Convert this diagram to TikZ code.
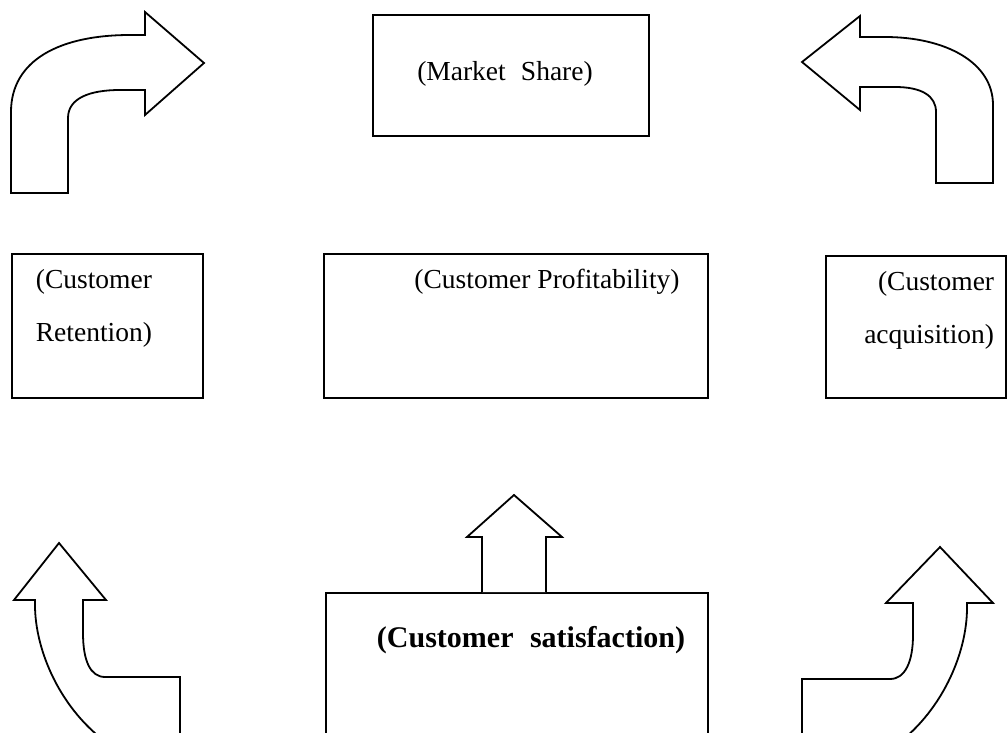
\documentclass[tikz,border=0pt]{standalone}
\usepackage{fontspec}
\setmainfont{Liberation Serif}
\begin{document}
\begin{tikzpicture}[x=1pt,y=-1pt,line width=1.8pt,line join=miter,
  box/.style={draw,rectangle,inner sep=0pt,anchor=north west},
  lbl/.style={inner sep=0pt,font=\fontsize{27.5}{33}\selectfont},
  boldlbl/.style={inner sep=0pt,font=\bfseries\fontsize{30}{36}\selectfont},
  blockarrow/.style={draw,fill=white}]
\useasboundingbox (0,0) rectangle (1007,733);

% boxes
\node[box,minimum width=276pt,minimum height=121pt] (share) at (372,14) {};
\node[box,minimum width=191pt,minimum height=144pt] (retention) at (11,253) {};
\node[box,minimum width=384pt,minimum height=144pt] (profit) at (323,253) {};
\node[box,minimum width=180pt,minimum height=142pt] (acquisition) at (825,255) {};
\node[box,minimum width=382pt,minimum height=170pt] (satisfaction) at (325,592) {};

% labels
\node[lbl,anchor=base] (tshare) at (505,81) {(Market\hspace{0.3em} Share)};
\node[lbl,anchor=base west] (tret1) at (35,288) {(Customer};
\node[lbl,anchor=base west] (tret2) at (35,341) {Retention)};
\node[lbl,anchor=base] (tprof) at (547,288) {(Customer Profitability)};
\node[lbl,anchor=base east] (tacq1) at (995,290) {(Customer};
\node[lbl,anchor=base east] (tacq2) at (995,343) {acquisition)};
\node[boldlbl,anchor=base] (tsat) at (531,647) {(Customer\hspace{0.3em} satisfaction)};

% curved block arrow, upper left (pointing right)
\path[blockarrow] (11,193) -- (11,112)
  .. controls (11,60) and (60,35) .. (130,35) -- (145,35) -- (145,12)
  -- (204,63) -- (145,115) -- (145,90) -- (120,90)
  .. controls (90,90) and (68,98) .. (68,118) -- (68,193) -- cycle;

% curved block arrow, upper right (pointing left)
\path[blockarrow] (993,183) -- (993,105)
  .. controls (993,62) and (945,37) .. (885,37) -- (860,37) -- (860,16)
  -- (802,62) -- (860,110) -- (860,87) -- (895,87)
  .. controls (922,87) and (936,96) .. (936,112) -- (936,183) -- cycle;

% curved block arrow, lower left (pointing up)
\path[blockarrow] (180,760) -- (180,677) -- (105,677)
  .. controls (90,677) and (83,660) .. (83,633) -- (83,600) -- (106,600)
  -- (59,543) -- (14,600) -- (35,600) -- (35,605)
  .. controls (35,650) and (60,710) .. (110,745) -- (130,760) -- cycle;

% curved block arrow, lower right (pointing up)
\path[blockarrow] (802,760) -- (802,679) -- (890,679)
  .. controls (905,679) and (913,662) .. (913,635) -- (913,603) -- (886,603)
  -- (940,547) -- (993,603) -- (967,603) -- (967,608)
  .. controls (967,653) and (942,713) .. (892,748) -- (872,760) -- cycle;

% straight block arrow on top of the satisfaction box
\draw[fill=white] (482,592) -- (482,537) -- (467,537) -- (514,495)
  -- (562,537) -- (546,537) -- (546,592);
\end{tikzpicture}
\end{document}
